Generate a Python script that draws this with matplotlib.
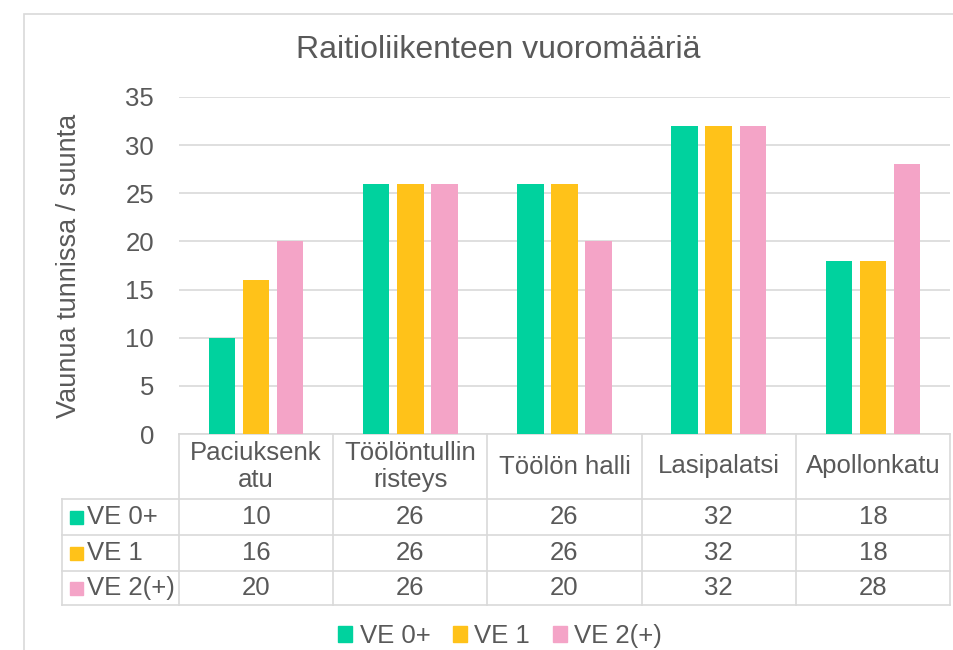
import numpy as np
import matplotlib
matplotlib.use('Agg')
import matplotlib.pyplot as plt
import matplotlib.patches as mpatches
from matplotlib.lines import Line2D

plt.rcParams['font.family'] = ['Liberation Sans', 'DejaVu Sans']

# data
stops = ["Paciuksenk\natu", "Töölöntullin\nristeys", "Töölön halli", "Lasipalatsi", "Apollonkatu"]
series = ["VE 0+", "VE 1", "VE 2(+)"]
ve0 = [10, 26, 26, 32, 18]
ve1 = [16, 26, 26, 32, 18]
ve2 = [20, 26, 20, 32, 28]
colors = ['#00D29E', '#FFC219', '#F4A4C7']
values = [ve0, ve1, ve2]

TXT = '#595959'
GRID = '#D9D9D9'
W, H = 954, 650
FS = 18.5

def fx(x):
    return x / W

def fy(y):
    return 1 - y / H

fig = plt.figure(figsize=(W / 100, H / 100), dpi=100)

# outer chart frame (cut off at right and bottom like the screenshot)
fig.add_artist(mpatches.Rectangle((fx(24), fy(700)), 2, fy(14) - fy(700),
                                  transform=fig.transFigure, fill=False,
                                  edgecolor=GRID, linewidth=1.2))

# main bar axes
left, right, top, bottom = 179, 950, 97, 434
ax = fig.add_axes([fx(left), fy(bottom), fx(right) - fx(left), fy(top) - fy(bottom)])
idx = np.arange(len(stops))
width = 0.172
step = 0.221
for i, (vals, c) in enumerate(zip(values, colors)):
    ax.bar(idx + (i - 1) * step, vals, width=width, color=c, zorder=3)

ax.set_xlim(-0.5, len(stops) - 0.5)
ax.set_ylim(0, 35)
ax.set_yticks(range(0, 36, 5))
ax.set_xticks([])
ax.grid(axis='y', color=GRID, linewidth=1.2, zorder=0)
for s in ['top', 'right', 'left']:
    ax.spines[s].set_visible(False)
ax.spines['bottom'].set_color(GRID)
ax.spines['bottom'].set_linewidth(1.2)
ax.tick_params(axis='y', length=0, labelsize=FS, labelcolor=TXT, pad=18)
ax.set_ylabel("Vaunua tunnissa / suunta", fontsize=19.5, color=TXT)
ax.yaxis.set_label_coords((82 - left) / (right - left), 0.5)

fig.text(fx(498), fy(50), "Raitioliikenteen vuoromääriä",
         ha='center', va='center', fontsize=23, color=TXT)

# data table under the axis
col_edges = np.linspace(left, right, len(stops) + 1)
row_edges = [434, 499, 535, 571, 605]
tab_left = 62

def hline(y, x0, x1):
    fig.add_artist(Line2D([fx(x0), fx(x1)], [fy(y), fy(y)], transform=fig.transFigure,
                          color=GRID, linewidth=1.2))

def vline(x, y0, y1):
    fig.add_artist(Line2D([fx(x), fx(x)], [fy(y0), fy(y1)], transform=fig.transFigure,
                          color=GRID, linewidth=1.2))

for y in row_edges[1:]:
    hline(y, tab_left, right)
for x in col_edges:
    vline(x, row_edges[0], row_edges[-1])
vline(tab_left, row_edges[1], row_edges[-1])

for j, name in enumerate(stops):
    cx = (col_edges[j] + col_edges[j + 1]) / 2
    fig.text(fx(cx), fy((row_edges[0] + row_edges[1]) / 2), name, ha='center', va='center',
             fontsize=FS, color=TXT, linespacing=1.12)
    for i, vals in enumerate(values):
        cy = (row_edges[i + 1] + row_edges[i + 2]) / 2
        fig.text(fx(cx), fy(cy), str(vals[j]), ha='center', va='center',
                 fontsize=FS, color=TXT)

for i, (name, c) in enumerate(zip(series, colors)):
    cy = (row_edges[i + 1] + row_edges[i + 2]) / 2
    fig.add_artist(mpatches.Rectangle((fx(70), fy(cy + 6.5)), fx(13), fy(0) - fy(13),
                                      transform=fig.transFigure, color=c))
    fig.text(fx(87), fy(cy), name, ha='left', va='center', fontsize=FS, color=TXT)

# legend
handles = [mpatches.Patch(color=c, label=s) for s, c in zip(series, colors)]
leg = fig.legend(handles=handles, loc='center', bbox_to_anchor=(fx(500), fy(636)),
                 ncol=3, frameon=False, fontsize=FS, handlelength=0.55, handleheight=0.55,
                 handletextpad=0.3, columnspacing=0.87)
for t in leg.get_texts():
    t.set_color(TXT)

fig.savefig('out.png', dpi=100)
